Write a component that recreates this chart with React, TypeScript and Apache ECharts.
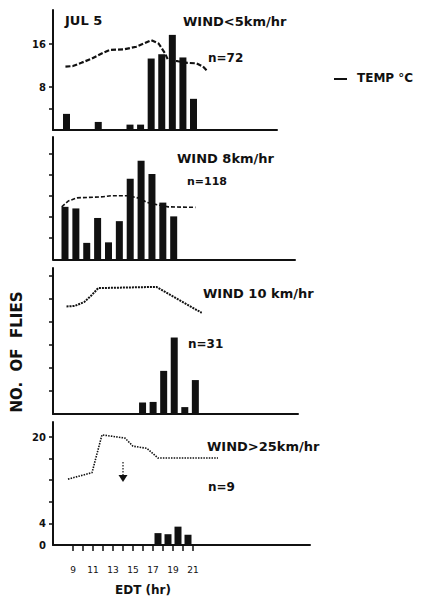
import React, { useEffect, useRef } from "react";
import * as echarts from "echarts";

// Panel 1: wind < 5 km/hr (JUL 5)
const P1_HOURS = [8.5, 11.5, 14.5, 15.5, 16.5, 17.5, 18.5, 19.5, 20.5];
const P1_FLIES = [3, 1.5, 1, 1, 13.3, 14.1, 17.7, 13.5, 5.8];
const P1_TEMP_HOURS = [8.4, 9.1, 9.9, 10.9, 12.0, 12.6, 13.9, 15.1, 16.5, 17.2, 17.8, 18.1, 19.0, 19.9, 20.8, 21.4, 21.8];
const P1_TEMP = [11.8, 11.9, 12.5, 13.3, 14.4, 14.9, 15.0, 15.5, 16.7, 16.1, 14.3, 13.0, 12.8, 12.5, 12.4, 11.8, 11.0];

// Panel 2: wind 8 km/hr
const P2_HOURS = [8.5, 9.5, 10.5, 11.5, 12.5, 13.5, 14.5, 15.5, 16.5, 17.5, 18.5];
const P2_FLIES = [9.9, 9.6, 3.1, 7.8, 3.2, 7.2, 15.2, 18.6, 16.1, 10.7, 8.1];
const P2_TEMP_HOURS = [8.2, 8.8, 9.6, 12.0, 12.8, 14.3, 15.4, 16.0, 17.2, 18.0, 20.5];
const P2_TEMP = [9.9, 11.0, 11.6, 11.8, 12.0, 12.0, 11.5, 10.75, 10.2, 9.9, 9.8];

// Panel 3: wind 10 km/hr
const P3_HOURS = [15.5, 16.5, 17.5, 18.5, 19.5, 20.5];
const P3_FLIES = [2, 2.1, 7.5, 13.3, 1.2, 5.9];
const P3_TEMP_HOURS = [8.3, 9.1, 10.0, 10.7, 11.3, 16.8, 21.1];
const P3_TEMP = [18.7, 18.8, 19.5, 20.7, 21.9, 22.1, 17.6];

// Panel 4: wind > 25 km/hr
const P4_HOURS = [17.5, 18.5, 19.5, 20.5];
const P4_FLIES = [2.2, 2, 3.4, 1.9];
const P4_TEMP_HOURS = [8.5, 10.9, 11.9, 14.2, 15.0, 16.4, 17.5, 23.5];
const P4_TEMP = [12.2, 13.4, 20.4, 19.8, 18.3, 17.9, 16.1, 16.1];

const X_TICKS = [9, 10, 11, 12, 13, 14, 15, 16, 17, 18, 19, 20, 21];
const X_LABELS = [9, 11, 13, 15, 17, 19, 21];

const INK = "#111";
const FONT = "DejaVu Sans";

const zip = (a: number[], b: number[]) => a.map((v, i) => [v, b[i]]);

export default function App() {
  const ref = useRef<HTMLDivElement>(null);

  useEffect(() => {
    document.body.style.margin = "0";
    const chart = echarts.init(ref.current!, undefined, { renderer: "svg" });

    const panels = [
      { top: 10, height: 120, width: 224, xmin: 7.224, xmax: 28.39, ymax: 22.33, ticks: [4, 8, 16], labels: [8, 16] },
      { top: 137, height: 122.3, width: 242, xmin: 7.396, xmax: 29.66, ymax: 23.08, ticks: [4, 8, 12, 16, 20], labels: [] as number[] },
      { top: 268, height: 146, width: 245, xmin: 7.02, xmax: 30.22, ymax: 25.39, ticks: [4, 8, 12, 16, 20, 24], labels: [] as number[] },
      { top: 422, height: 123, width: 257, xmin: 7, xmax: 32.7, ymax: 22.78, ticks: [4, 8, 12, 16, 20], labels: [0, 4, 20] },
    ];

    const axisLine = { show: true, onZero: false, lineStyle: { color: INK, width: 2 } };

    const grid = panels.map((p) => ({ left: 53, top: p.top, width: p.width, height: p.height, containLabel: false }));

    const xAxis = panels.map((p, i) => ({
      gridIndex: i,
      type: "value",
      min: p.xmin,
      max: p.xmax,
      axisLine,
      splitLine: { show: false },
      axisTick:
        i === 3
          ? { show: true, length: 6, customValues: X_TICKS, lineStyle: { color: INK, width: 1.5 } }
          : { show: false },
      axisLabel:
        i === 3
          ? { show: true, customValues: X_LABELS, margin: 20, fontSize: 9, fontFamily: FONT, color: INK }
          : { show: false },
    }));

    const yAxis = panels.map((p, i) => ({
      gridIndex: i,
      type: "value",
      min: 0,
      max: p.ymax,
      axisLine,
      splitLine: { show: false },
      axisTick: { show: true, length: 4, customValues: p.ticks, lineStyle: { color: INK, width: 1.5 } },
      axisLabel: {
        show: p.labels.length > 0,
        customValues: p.labels,
        margin: 7,
        fontSize: 10,
        fontWeight: "bold",
        fontFamily: FONT,
        color: INK,
      },
    }));

    const bars = [
      zip(P1_HOURS, P1_FLIES),
      zip(P2_HOURS, P2_FLIES),
      zip(P3_HOURS, P3_FLIES),
      zip(P4_HOURS, P4_FLIES),
    ];
    const temps = [
      zip(P1_TEMP_HOURS, P1_TEMP),
      zip(P2_TEMP_HOURS, P2_TEMP),
      zip(P3_TEMP_HOURS, P3_TEMP),
      zip(P4_TEMP_HOURS, P4_TEMP),
    ];
    const lineTypes: any[] = [[5, 2], [4, 2], [2, 1], [1.5, 1.2]];
    const lineWidths = [2.2, 1.6, 2, 1.6];

    const series: any[] = [];
    bars.forEach((d, i) => {
      series.push({
        type: "line",
        xAxisIndex: i,
        yAxisIndex: i,
        data: temps[i],
        symbol: "none",
        smooth: false,
        lineStyle: { color: INK, width: lineWidths[i], type: lineTypes[i] },
        z: 2,
      });
      series.push({
        type: "bar",
        xAxisIndex: i,
        yAxisIndex: i,
        data: d,
        barWidth: 7,
        itemStyle: { color: INK },
        z: 3,
      });
    });

    const txt = (text: string, x: number, y: number, size: number, extra: any = {}) => ({
      type: "text",
      x,
      y,
      z: 10,
      ...extra,
      style: {
        text,
        fill: INK,
        font: `bold ${size}px "${FONT}"`,
        align: "left",
        verticalAlign: "middle",
        ...(extra.style || {}),
      },
    });

    const graphic: any[] = [
      txt("JUL 5", 65, 20, 13),
      txt("WIND<5km/hr", 183, 21, 13),
      txt("n=72", 208, 58, 12),
      txt("WIND 8km/hr", 177, 158, 13),
      txt("n=118", 187, 181, 11),
      txt("WIND 10 km/hr", 203, 293, 13),
      txt("n=31", 188, 344, 12),
      txt("WIND>25km/hr", 207, 446, 13),
      txt("n=9", 208, 487, 12),
      txt("TEMP °C", 357, 78, 12),
      {
        type: "line",
        shape: { x1: 334, y1: 79, x2: 347, y2: 79 },
        style: { stroke: INK, lineWidth: 2 },
      },
      {
        type: "text",
        x: 17,
        y: 352,
        rotation: Math.PI / 2,
        style: {
          text: "NO.  OF  FLIES",
          fill: INK,
          font: `bold 15px "${FONT}"`,
          align: "center",
          verticalAlign: "middle",
        },
      },
      txt("EDT (hr)", 143, 590, 12, { style: { align: "center" } }),
      {
        type: "line",
        shape: { x1: 123, y1: 462, x2: 123, y2: 476 },
        style: { stroke: INK, lineWidth: 1.2, lineDash: [1.5, 1.5] },
      },
      {
        type: "polygon",
        shape: { points: [[118.5, 475], [127.5, 475], [123, 482]] },
        style: { fill: INK },
      },
    ];

    chart.setOption({
      animation: false,
      backgroundColor: "#fff",
      grid,
      xAxis,
      yAxis,
      series,
      graphic,
    });

    return () => chart.dispose();
  }, []);

  return <div ref={ref} style={{ width: 426, height: 598 }} />;
}
